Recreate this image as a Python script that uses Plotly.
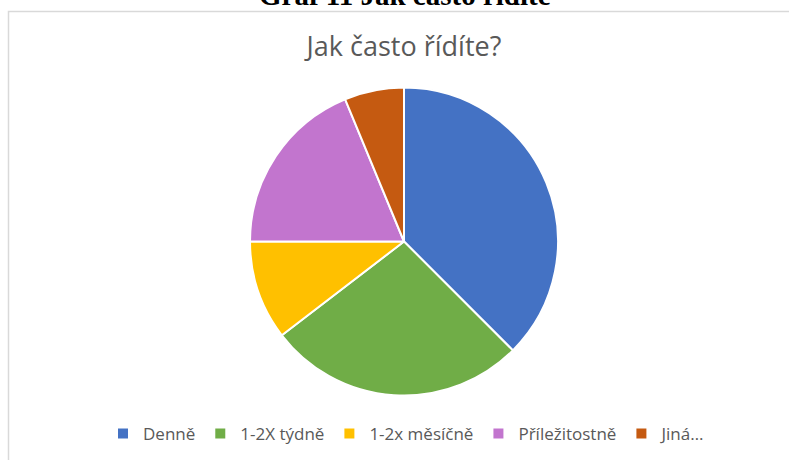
import plotly.graph_objects as go

# Survey answers: how often do you drive?
categories = ["Denně", "1-2X týdně", "1-2x měsíčně", "Příležitostně", "Jiná…"]
counts = [18, 13, 5, 9, 3]
colors = ["#4472C4", "#70AD47", "#FFC000", "#C275CE", "#C55A11"]

W, H = 789, 460


def px_x(x):
    return x / W


def px_y(y):
    # pixel distance from the top -> paper fraction from the bottom
    return (H - y) / H


cx, cy, r = 404, 241.5, 154

fig = go.Figure(
    go.Pie(
        labels=categories,
        values=counts,
        marker=dict(colors=colors, line=dict(color="white", width=2)),
        sort=False,
        direction="clockwise",
        rotation=0,
        textinfo="none",
        hoverinfo="label+value+percent",
        domain=dict(x=[px_x(cx - r), px_x(cx + r)], y=[px_y(cy + r), px_y(cy - r)]),
    )
)

fig.update_layout(
    width=W,
    height=H,
    margin=dict(l=0, r=0, t=0, b=0),
    paper_bgcolor="white",
    plot_bgcolor="white",
    title=dict(
        text="Jak často řídíte?",
        font=dict(family="Open Sans", size=27, color="#595959"),
        x=px_x(404),
        xanchor="center",
        y=px_y(47),
        yanchor="middle",
    ),
    legend=dict(
        orientation="h",
        x=px_x(407),
        xanchor="center",
        y=px_y(434),
        yanchor="middle",
        font=dict(family="Open Sans", size=17, color="#595959"),
        bgcolor="rgba(0,0,0,0)",
    ),
    shapes=[
        dict(
            type="rect",
            xref="paper",
            yref="paper",
            x0=px_x(8.5),
            x1=1.05,
            y0=-0.05,
            y1=px_y(11.5),
            line=dict(color="#D9D9D9", width=1.5),
            fillcolor="rgba(0,0,0,0)",
            layer="below",
        )
    ],
    annotations=[
        dict(
            text="<b>Graf 11 Jak často řídíte</b>",
            xref="paper",
            yref="paper",
            x=px_x(405),
            xanchor="center",
            y=px_y(-5),
            yanchor="middle",
            showarrow=False,
            font=dict(family="Liberation Serif", size=29, color="black"),
        )
    ],
)

fig.write_html("out.html")
